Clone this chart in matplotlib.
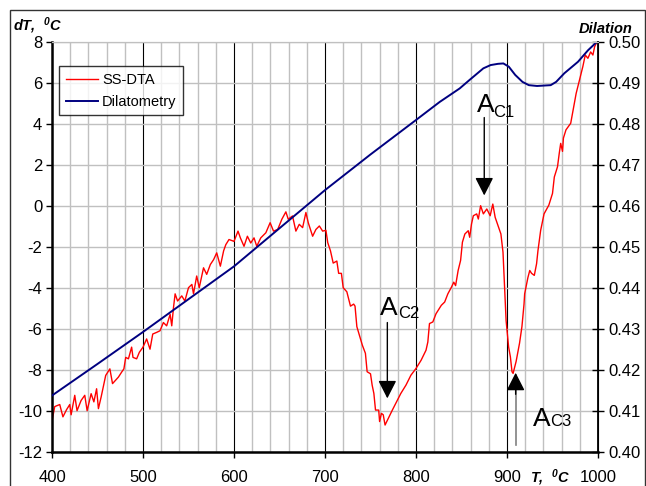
import matplotlib
matplotlib.use("Agg")
import matplotlib.pyplot as plt
from matplotlib.patches import Rectangle
from matplotlib.ticker import MultipleLocator, FormatStrFormatter

plt.rcParams['font.family'] = ['Liberation Sans', 'DejaVu Sans']
plt.rcParams['axes.unicode_minus'] = False
plt.rcParams['mathtext.fontset'] = 'custom'
plt.rcParams['mathtext.rm'] = 'Liberation Sans:bold:italic'
plt.rcParams['mathtext.it'] = 'Liberation Sans:bold:italic'

# SS-DTA curve (T in deg C, dT in deg C)
dta_T = [400, 403, 408.5, 412, 416, 419.5, 421, 425, 427.5, 432, 436, 438.6, 443, 446,
         449, 451, 454, 459, 463.6, 466.5, 473, 476.5, 479, 481, 484, 487.5, 489, 493,
         496, 500, 504, 507.7, 510.7, 515, 518.7, 522.4, 526, 529.8, 531.6, 533.5,
         535.3, 538, 542.6, 546, 550, 553.7, 555.5, 559, 561.8, 566.5, 570, 574, 577.6,
         581, 585, 588.6, 591, 594.5, 600, 604.4, 607, 611, 614.7, 618.4, 622, 625,
         629.4, 635, 639.7, 643.4, 648, 652.6, 657, 659.6, 664.3, 668, 671.7, 675.4,
         679, 681.6, 686.4, 690, 693.8, 697.4, 701, 703, 706, 709, 713, 715, 718, 720,
         724, 728, 731.5, 733, 735, 737, 741, 744.4, 746.3, 750, 751.8, 753.7, 755.5,
         759, 760, 762, 764, 766, 770.4, 774, 777.8, 783.3, 789, 794.4, 800, 805.6,
         811, 813, 814.8, 818.5, 822, 827.8, 831.5, 835, 839, 841.5, 843.5, 846.3, 849,
         851, 853.7, 857.4, 859, 861, 863, 866.7, 868.5, 871, 874, 877.8, 881.5, 884.4,
         887, 890.7, 893.3, 895.6, 897, 899, 901.8, 903.7, 905.5, 906.7, 910, 913.8,
         916.4, 918.7, 919.4, 923, 925, 927, 930, 932.5, 934, 937, 940.7, 946, 950,
         952, 955.5, 957.4, 959, 961, 962, 964.8, 970, 972, 976, 979.6, 983.3, 986,
         988.9, 991.9, 994.4, 996.3, 999]
dta_dT = [-10.5, -9.8, -9.7, -10.3, -9.95, -9.7, -10.2, -9.25, -10.0, -9.5, -9.25, -10.0,
          -9.17, -9.57, -8.93, -9.9, -9.33, -8.28, -7.96, -8.68, -8.36, -8.12, -7.96,
          -7.4, -7.47, -6.9, -7.4, -7.47, -7.15, -6.9, -6.5, -7.0, -6.26, -6.18, -6.1,
          -5.7, -5.86, -5.3, -5.86, -4.97, -4.3, -4.65, -4.4, -4.65, -4.0, -3.84, -4.3,
          -3.43, -4.0, -3.03, -3.35, -2.87, -2.63, -2.3, -2.95, -2.2, -1.9, -1.65, -1.74,
          -1.24, -1.57, -1.98, -1.49, -1.82, -1.57, -1.98, -1.57, -1.32, -0.83, -1.24,
          -1.16, -0.66, -0.3, -0.66, -0.5, -1.24, -0.91, -1.07, -0.33, -0.83, -1.49,
          -1.16, -0.99, -1.24, -1.2, -1.8, -2.2, -2.8, -2.7, -3.3, -3.3, -4.0, -4.2,
          -4.9, -4.8, -4.9, -5.9, -6.2, -6.8, -7.2, -8.1, -8.2, -8.75, -9.16, -9.97,
          -9.97, -10.53, -10.13, -10.2, -10.7, -10.3, -9.97, -9.64, -9.16, -8.75, -8.27,
          -7.94, -7.54, -7.05, -6.65, -5.75, -5.67, -5.27, -4.86, -4.7, -4.3, -3.97,
          -3.73, -3.9, -3.16, -2.67, -1.78, -1.38, -1.22, -1.54, -0.89, -0.49, -0.4,
          -0.65, 0.0, -0.4, -0.16, -0.49, 0.08, -0.57, -1.05, -1.38, -2.27, -3.65, -5.6,
          -6.9, -7.37, -8.1, -8.18, -7.6, -6.7, -5.9, -4.8, -4.3, -3.5, -3.16, -3.3,
          -3.4, -2.83, -2.2, -1.2, -0.4, 0.03, 0.6, 1.4, 1.9, 2.55, 3.04, 2.65, 3.3, 3.7,
          4.02, 4.5, 5.48, 6.13, 6.78, 7.35, 7.19, 7.5, 7.35, 7.76, 8.0]

# Dilatometry curve (right axis)
dil_T = [400, 450, 500, 550, 600, 650, 700, 750, 800, 826, 848, 859, 874, 882, 890,
         896, 902, 909, 917, 924, 933, 948, 954, 963, 978, 989, 998]
dil = [0.4137, 0.4214, 0.4292, 0.4372, 0.4452, 0.4545, 0.4638, 0.4725, 0.4809,
       0.4853, 0.4886, 0.4907, 0.4935, 0.4943, 0.4946, 0.4947, 0.4939, 0.4919, 0.4902,
       0.4894, 0.4892, 0.4894, 0.4902, 0.4923, 0.4951, 0.4979, 0.4998]

fig = plt.figure(figsize=(6.46, 4.86), dpi=100)
ax = fig.add_axes([0.0805, 0.0706, 0.8452, 0.8436])
ax2 = ax.twinx()

# outer frame around the whole chart
fig.patches.append(Rectangle((10 / 646, -0.05), 635 / 646, 1.05 - 10 / 486,
                             transform=fig.transFigure, fill=False,
                             edgecolor='#333333', linewidth=1))

l1, = ax.plot(dta_T, dta_dT, color='#ff0000', lw=1.0, label='SS-DTA')
l2, = ax2.plot(dil_T, dil, color='#000080', lw=1.4, label='Dilatometry')

ax.set_xlim(400, 1000)
ax.set_ylim(-12, 8)
ax2.set_ylim(0.40, 0.50)

ax.xaxis.set_major_locator(MultipleLocator(100))
ax.xaxis.set_minor_locator(MultipleLocator(20))
ax.yaxis.set_major_locator(MultipleLocator(2))
ax2.yaxis.set_major_locator(MultipleLocator(0.01))
ax2.yaxis.set_major_formatter(FormatStrFormatter('%.2f'))

ax.grid(True, which='minor', axis='x', color='#c0c0c0', lw=1.0)
ax.grid(True, which='major', axis='y', color='#c0c0c0', lw=1.0)
ax.grid(True, which='major', axis='x', color='black', lw=0.8)
ax.set_axisbelow(True)

ax.tick_params(axis='x', which='major', direction='out', length=4, width=1, pad=9,
               labelsize=12)
ax.tick_params(axis='x', which='minor', length=0)
ax.tick_params(axis='y', direction='out', length=4, width=1, pad=3, labelsize=12)
ax2.tick_params(axis='y', direction='inout', length=9, width=1, pad=3, labelsize=12)

for s in ['left', 'bottom']:
    ax.spines[s].set_linewidth(1.8)
ax2.spines['right'].set_linewidth(1.3)
ax2.spines['top'].set_color('#c0c0c0')
ax.spines['top'].set_color('#c0c0c0')
ax2.spines['left'].set_visible(False)
ax2.spines['bottom'].set_visible(False)

leg = ax2.legend([l1, l2], ['SS-DTA', 'Dilatometry'], loc='upper left',
                 bbox_to_anchor=(0.013, 0.94), borderaxespad=0, fancybox=False,
                 edgecolor='black', fontsize=10.5, handlelength=2.2,
                 labelspacing=0.55, borderpad=0.45, handletextpad=0.3)
leg.get_frame().set_linewidth(1.0)

# axis titles
fig.text(13 / 646, 1 - 31 / 486, 'dT,  $^{0}$C', fontsize=10.5, fontweight='bold',
         fontstyle='italic', va='baseline', ha='left')
fig.text(632 / 646, 1 - 33 / 486, 'Dilation', fontsize=10.5, fontweight='bold',
         fontstyle='italic', va='baseline', ha='right')
fig.text(530 / 646, 1 - 482 / 486, 'T,  $^{0}$C', fontsize=10.5, fontweight='bold',
         fontstyle='italic', va='baseline', ha='left')

# transformation annotations
head = '-|>,head_length=0.55,head_width=0.28'
ax.annotate('', xy=(875, 0.5), xytext=(875, 4.3),
            arrowprops=dict(arrowstyle=head, color='black', lw=1, mutation_scale=20,
                            shrinkA=0, shrinkB=0))
ax.text(867, 4.57, 'A', fontsize=19, va='baseline', ha='left')
ax.text(884.6, 4.33, 'C1', fontsize=12, va='baseline', ha='left')

ax.annotate('', xy=(768.5, -9.4), xytext=(768.5, -5.7),
            arrowprops=dict(arrowstyle=head, color='black', lw=1, mutation_scale=20,
                            shrinkA=0, shrinkB=0))
ax.text(760.4, -5.33, 'A', fontsize=19, va='baseline', ha='left')
ax.text(780.2, -5.5, 'C2', fontsize=12, va='baseline', ha='left')

ax.plot([909.5, 909.5], [-11.67, -9.0], color='#808080', lw=1.2)
ax.annotate('', xy=(909.5, -8.15), xytext=(909.5, -9.2),
            arrowprops=dict(arrowstyle=head, color='black', lw=1, mutation_scale=20,
                            shrinkA=0, shrinkB=0))
ax.text(928.6, -10.75, 'A', fontsize=19, va='baseline', ha='left')
ax.text(947.3, -10.75, 'C3', fontsize=12, va='baseline', ha='left')

fig.savefig('out.png', dpi=100)
